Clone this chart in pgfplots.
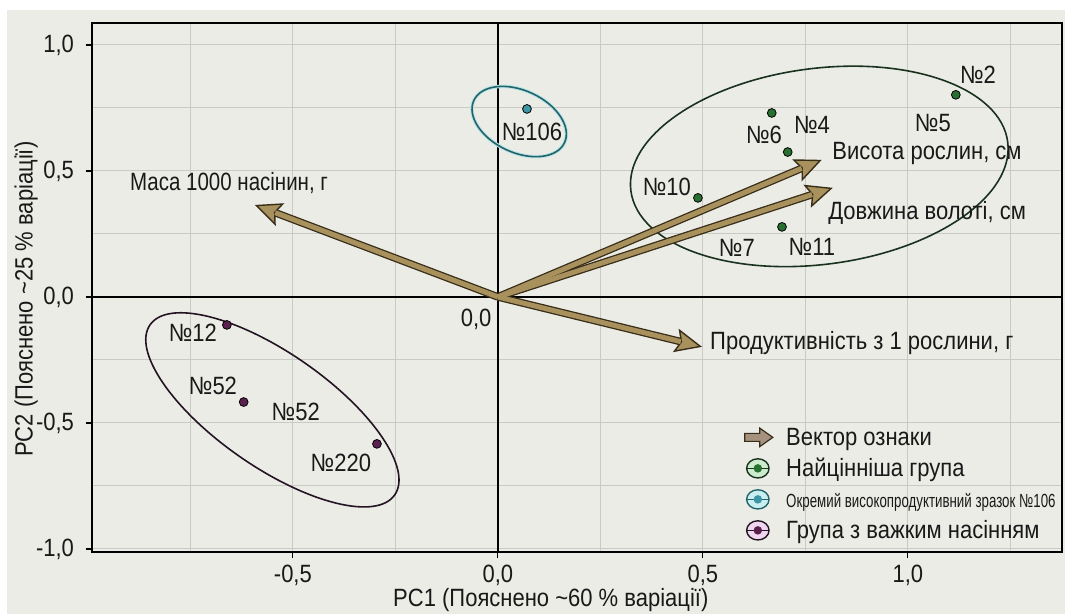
\documentclass[border=0pt]{standalone}
\usepackage{fontspec}
\setmainfont{Liberation Sans}[FakeStretch=0.88]
\newfontfamily\narrowfont{Liberation Sans}[FakeStretch=0.7]
\usepackage{pgfplots}
\pgfplotsset{compat=1.18}
\usetikzlibrary{arrows.meta}
\definecolor{bgc}{RGB}{236,236,230}
\definecolor{gridc}{RGB}{202,202,196}
\definecolor{arrowfill}{RGB}{168,145,92}
\definecolor{arrowdark}{RGB}{55,45,25}
\definecolor{legarrow}{RGB}{165,145,125}
\definecolor{gdot}{RGB}{40,112,48}
\definecolor{gline}{RGB}{25,50,30}
\definecolor{gfill}{RGB}{205,235,205}
\definecolor{tdot}{RGB}{60,150,165}
\definecolor{tline}{RGB}{35,100,105}
\definecolor{tglow}{RGB}{185,228,232}
\definecolor{tfill}{RGB}{200,238,240}
\definecolor{pdot}{RGB}{92,32,80}
\definecolor{pline}{RGB}{35,20,35}
\definecolor{pfill}{RGB}{240,215,240}
\definecolor{txt}{RGB}{25,25,25}
\begin{document}
\begin{tikzpicture}[font=\fontsize{12.5}{15}\selectfont]
\path[use as bounding box] (-46pt,-31pt) rectangle (486.5pt,276pt);
\fill[white] (-46pt,-31pt) rectangle (486.5pt,276pt);
\fill[bgc] (-42.5pt,-31pt) rectangle (486.5pt,271pt);
\begin{axis}[
  at={(0,0)}, anchor=south west,
  scale only axis, width=485pt, height=264.5pt,
  xmin=-0.99, xmax=1.376, ymin=-1.012, ymax=1.087,
  axis line style={black, line width=0.7pt},
  tick align=outside, tick pos=left,
  major tick length=3pt, minor tick length=0pt,
  tick style={black, line width=0.6pt},
  xtick={-0.5,0,0.5,1}, xticklabels={{-0,5},{0,0},{0,5},{1,0}},
  ytick={-1,-0.5,0,0.5,1}, yticklabels={{-1,0},{-0,5},{0,0},{0,5},{1,0}},
  minor xtick={-0.75,-0.25,0.25,0.75,1.25},
  minor ytick={-0.75,-0.25,0.25,0.75},
  grid=both,
  major grid style={gridc, line width=0.5pt},
  minor grid style={gridc, line width=0.5pt},
  extra x ticks={0}, extra x tick labels={},
  extra y ticks={0}, extra y tick labels={},
  extra tick style={grid=major, major grid style={black, line width=0.7pt}, major tick length=0pt},
  ticklabel style={text=txt},
  yticklabel style={xshift=-2.5pt},
  xlabel={PC1 (Пояснено \textasciitilde 60 \% варіації)},
  ylabel={PC2 (Пояснено \textasciitilde 25 \% варіації)},
  every axis x label/.style={at={(axis description cs:0.473,-0.0907)}, anchor=center, text=txt},
  every axis y label/.style={at={(axis description cs:-0.068,0.478)}, anchor=center, rotate=90, text=txt},
  legend style={at={(0.672,0.242)}, anchor=north west, draw=none, fill=none, inner sep=0pt, row sep=2.5pt,
    nodes={inner sep=1pt, text height=9.5pt, text depth=1.5pt, text=txt}, font=\fontsize{12.5}{15}\selectfont},
  legend cell align=left,
]
% ellipses
\draw[gline, line width=0.8pt] (axis cs:0.784,0.518) circle [x radius=95pt, y radius=49pt, rotate=7.4];
\draw[tglow, line width=1.8pt] (axis cs:0.052,0.696) circle [x radius=25pt, y radius=15.5pt, rotate=-25];
\draw[tline, line width=0.8pt] (axis cs:0.052,0.696) circle [x radius=25pt, y radius=15.5pt, rotate=-25];
\draw[pline, line width=0.8pt] (axis cs:-0.55,-0.448) circle [x radius=74.5pt, y radius=28.5pt, rotate=-34.8];

% vectors
\addplot[forget plot, draw=arrowdark, line width=3.8pt,
  -{Stealth[length=13.5pt,width=12pt,inset=2.5pt,fill=arrowfill,line width=0.7pt]},
  quiver={u=\thisrow{u}, v=\thisrow{v}}] table[row sep=\\] {
x y u v \\
0 0 -0.593 0.365 \\
0 0 0.790 0.544 \\
0 0 0.817 0.433 \\
0 0 0.498 -0.198 \\
};
\addplot[forget plot, draw=arrowfill, line width=2.5pt, shorten >=10.9pt,
  quiver={u=\thisrow{u}, v=\thisrow{v}}] table[row sep=\\] {
x y u v \\
0 0 -0.593 0.365 \\
0 0 0.790 0.544 \\
0 0 0.817 0.433 \\
0 0 0.498 -0.198 \\
};

% points
\addplot[forget plot, only marks, mark=*, mark size=2.2pt, mark options={draw=none, fill=gdot}] table[row sep=\\] {
x y \\
1.117 0.802 \\
0.668 0.730 \\
0.707 0.575 \\
0.488 0.393 \\
0.693 0.278 \\
};
\addplot[forget plot, only marks, mark=*, mark size=2.2pt, mark options={draw=none, fill=tdot}] table[row sep=\\] {
x y \\
0.071 0.746 \\
};
\addplot[forget plot, only marks, mark=*, mark size=2.2pt, mark options={draw=none, fill=pdot}] table[row sep=\\] {
x y \\
-0.661 -0.111 \\
-0.620 -0.417 \\
-0.295 -0.583 \\
};

% point labels
\begin{scope}[every node/.style={inner sep=0pt, text=txt}]
\node at (axis cs:1.171,0.881) {№2};
\node at (axis cs:1.061,0.690) {№5};
\node at (axis cs:0.649,0.643) {№6};
\node at (axis cs:0.766,0.683) {№4};
\node at (axis cs:0.412,0.437) {№10};
\node at (axis cs:0.583,0.194) {№7};
\node at (axis cs:0.766,0.198) {№11};
\node at (axis cs:0.083,0.655) {№106};
\node at (axis cs:-0.744,-0.143) {№12};
\node at (axis cs:-0.695,-0.353) {№52};
\node at (axis cs:-0.493,-0.456) {№52};
\node at (axis cs:-0.383,-0.659) {№220};
\node[anchor=west] at (axis cs:-0.898,0.452) {\addfontfeature{FakeStretch=0.82}Маса 1000 насінин, г};
\node[anchor=west] at (axis cs:0.815,0.571) {Висота рослин, см};
\node[anchor=west] at (axis cs:0.805,0.333) {Довжина волоті, см};
\node[anchor=west] at (axis cs:0.517,-0.183) {Продуктивність з 1 рослини, г};
\node[anchor=north east, xshift=-3pt, yshift=-6pt] at (axis cs:0,0) {0,0};
\end{scope}

% legend
\addlegendimage{legend image code/.code={
  \draw[arrowdark, fill=legarrow, line width=0.6pt] (-1pt,-2pt) -- (6.5pt,-2pt) -- (6.5pt,-4.6pt) -- (13pt,0) -- (6.5pt,4.6pt) -- (6.5pt,2pt) -- (-1pt,2pt) -- cycle;
  \path (0,0) (18.5pt,0);}}
\addlegendentry{Вектор ознаки}
\addlegendimage{legend image code/.code={
  \draw[gline, fill=gfill, line width=0.7pt] (5.5pt,0) circle [x radius=5.6pt, y radius=4.8pt];
  \draw[gline, line width=0.7pt] (-0.1pt,0) -- (11.1pt,0);
  \fill[gdot] (5.5pt,0) circle (1.9pt);
  \path (0,0) (18.5pt,0);}}
\addlegendentry{Найцінніша група}
\addlegendimage{legend image code/.code={
  \draw[tline, fill=tfill, line width=0.7pt] (5.5pt,0) circle [x radius=5.6pt, y radius=4.8pt];
  \draw[tline, line width=0.7pt] (-0.1pt,0) -- (11.1pt,0);
  \fill[tdot] (5.5pt,0) circle (1.9pt);
  \path (0,0) (18.5pt,0);}}
\addlegendentry{\narrowfont\fontsize{9.5}{11}\selectfont Окремий високопродуктивний зразок №106}
\addlegendimage{legend image code/.code={
  \draw[pline, fill=pfill, line width=0.7pt] (5.5pt,0) circle [x radius=5.6pt, y radius=4.8pt];
  \draw[pline, line width=0.7pt] (-0.1pt,0) -- (11.1pt,0);
  \fill[pdot] (5.5pt,0) circle (1.9pt);
  \path (0,0) (18.5pt,0);}}
\addlegendentry{Група з важким насінням}
\end{axis}
\end{tikzpicture}
\end{document}
